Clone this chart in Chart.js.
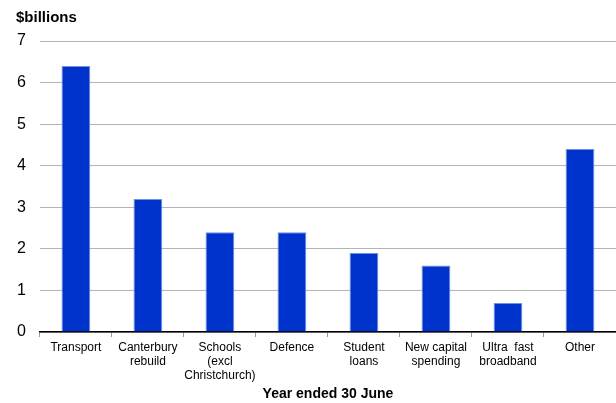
<!DOCTYPE html>
<html>
<head>
<meta charset="utf-8">
<script src="https://cdn.jsdelivr.net/npm/chart.js@4"></script>
<style>
  html, body { margin: 0; padding: 0; background: #fff; }
  #wrap { width: 616px; height: 403px; }
</style>
</head>
<body>
<div id="wrap"><canvas id="c" width="616" height="403"></canvas></div>
<script>
// Categories and values ($ billions)
const categories = [
  ["Transport"],
  ["Canterbury", "rebuild"],
  ["Schools", "(excl", "Christchurch)"],
  ["Defence"],
  ["Student", "loans"],
  ["New capital", "spending"],
  ["Ultra  fast", "broadband"],
  ["Other"]
];
const spending = [6.4, 3.2, 2.4, 2.4, 1.9, 1.6, 0.7, 4.4];
const yTicks = [0, 1, 2, 3, 4, 5, 6, 7];
const unitLabel = '$billions';

const FONT = "'Liberation Sans', Arial, sans-serif";

// Unit label drawn above the value axis, top-left
const unitLabelPlugin = {
  id: 'unitLabel',
  afterDraw(chart) {
    const ctx = chart.ctx;
    ctx.save();
    ctx.fillStyle = '#000';
    ctx.font = `bold 15px ${FONT}`;
    ctx.textAlign = 'left';
    ctx.textBaseline = 'middle';
    ctx.fillText(unitLabel, 16, 18);
    ctx.restore();
  }
};

new Chart(document.getElementById('c'), {
  type: 'bar',
  data: {
    labels: categories,
    datasets: [{
      data: spending,
      backgroundColor: '#0033cc',
      borderColor: '#6f8fe8',
      borderWidth: 1,
      barPercentage: 0.4,
      categoryPercentage: 1.0
    }]
  },
  options: {
    responsive: false,
    animation: false,
    layout: { padding: { left: 3, right: 0, top: 41, bottom: 0 } },
    plugins: {
      legend: { display: false },
      tooltip: { enabled: false },
      title: { display: false }
    },
    scales: {
      x: {
        grid: {
          display: true,
          offset: true,
          drawOnChartArea: false,
          drawTicks: true,
          tickLength: 5,
          color: '#999'
        },
        border: { display: true, color: '#000', width: 1.5 },
        ticks: {
          color: '#000',
          font: { family: FONT, size: 12, lineHeight: 1.2 },
          maxRotation: 0,
          autoSkip: false,
          padding: 3
        },
        title: {
          display: true,
          text: 'Year ended 30 June',
          color: '#000',
          font: { family: FONT, size: 14, weight: 'bold' },
          padding: { top: 0, bottom: 0 }
        }
      },
      y: {
        min: 0,
        max: 7,
        afterBuildTicks: (axis) => { axis.ticks = yTicks.map(v => ({ value: v })); },
        grid: {
          color: '#b4b4b4',
          lineWidth: 1,
          drawTicks: false
        },
        border: { display: false },
        ticks: {
          color: '#000',
          font: { family: FONT, size: 16 },
          padding: 14
        }
      }
    }
  },
  plugins: [unitLabelPlugin]
});
</script>
</body>
</html>
